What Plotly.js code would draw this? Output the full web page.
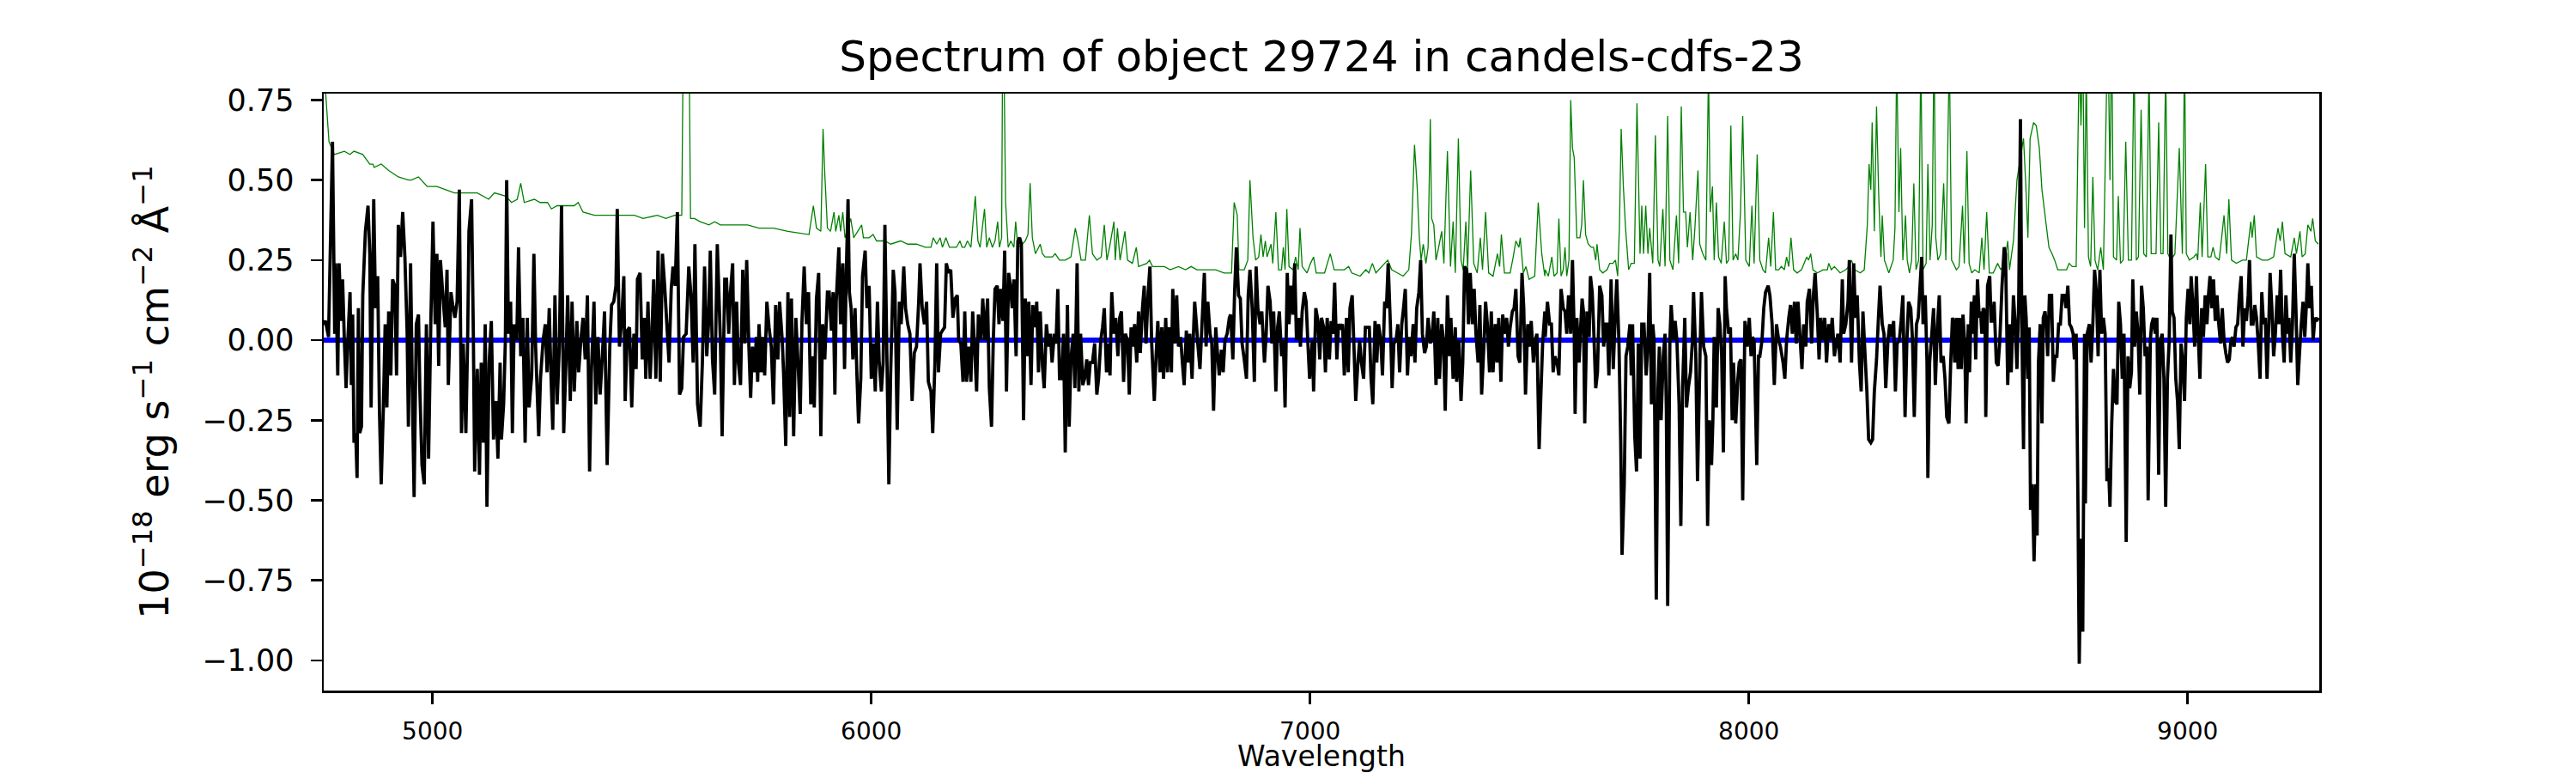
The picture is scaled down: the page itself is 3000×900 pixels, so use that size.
<!DOCTYPE html>
<html>
<head>
<meta charset="utf-8">
<title>Spectrum of object 29724</title>
<script src="https://cdn.plot.ly/plotly-3.0.1.min.js"></script>
<style>
  html, body { margin: 0; padding: 0; background: #fff; }
  #chart { width: 3000px; height: 900px; }
</style>
</head>
<body>
<div id="chart"></div>
<script>
// ---------------------------------------------------------------------------
// Data (wavelength in Angstrom, flux in 1e-18 cgs)
// ---------------------------------------------------------------------------

// Object flux (black), in five wavelength chunks
const fluxWave1 = [
  4750,4756,4763,4772,4777,4779,4784,4787,4792,4795,
  4799,4803,4807,4812,4815,4818,4821,4825,4828,4831,
  4834,4838,4841,4847,4853,4857,4860,4866,4870,4875,
  4879,4883,4888,4892,4896,4900,4905,4909,4914,4918,
  4922,4927,4932,4937,4942,4945,4950,4955,4958,4963,
  4968,4971,4976,4981,4986,4991,4996,5001,5006,5010,
  5014,5018,5023,5029,5033,5036,5042,5046,5051,5056,
  5061,5066,5070,5076,5080,5083,5089,5093,5096,5102,
  5107,5111,5116,5120,5124,5129,5134,5139,5145,5149,
  5154,5157,5162,5166,5169,5173,5178,5182,5186,5192,
  5196,5201,5206,5211,5216,5220,5226,5231,5235,5242,
  5246,5252,5257,5261,5266,5270,5274,5279,5284,5289,
  5294,5299,5304,5308,5314,5318,5323,5329,5333,5338,
  5343,5348,5353,5358,5362,5368,5372,5377,5382,5387,
  5392,5398,5404,5408,5413,5418,5421,5426,5431,5436,
  5439,5444,5449,5454,5459,5464,5467,5473,5478,5483,
  5486,5491,5496,5499,5504,5509,5514,5519,5524,5529,
  5534,5539,5544,5548,5553,5558,5563,5568,5572,5578,
  5584,5589,5594,5598,5604,5610,5615,5620,5625,5629,
  5633,5638,5643,5649,5656,5660,5666,5670,5675
];
const fluxValues1 = [
  0.05,0.06,0.01,0.62,0.02,0.24,-0.11,0.24,0.06,0.19,
  0.00,-0.15,0.00,0.15,-0.14,0.08,-0.32,-0.29,-0.43,0.10,
  -0.29,-0.27,0.14,0.34,0.42,0.27,-0.21,0.44,0.10,0.20,
  -0.22,-0.45,-0.21,0.05,-0.21,0.09,-0.11,0.19,0.17,-0.11,
  0.36,0.26,0.40,0.26,0.03,-0.27,0.24,-0.25,-0.49,0.05,
  0.08,-0.15,-0.39,-0.45,0.05,-0.37,0.05,0.37,0.05,0.27,
  -0.08,0.25,0.15,0.04,0.22,-0.14,0.15,0.11,0.07,0.12,
  0.47,-0.29,-0.01,-0.29,0.00,0.34,0.44,0.02,-0.41,-0.09,
  -0.42,-0.07,-0.32,0.05,-0.52,-0.07,0.06,-0.31,-0.19,-0.37,
  -0.07,-0.31,-0.20,0.00,0.50,0.02,0.12,-0.29,0.05,0.00,
  0.29,-0.05,0.07,-0.32,0.07,-0.21,-0.11,0.27,-0.02,-0.30,
  -0.12,0.00,0.05,-0.10,0.10,-0.11,-0.28,0.14,-0.20,-0.02,
  0.42,-0.29,-0.07,0.14,-0.19,0.12,-0.16,0.06,-0.10,0.00,
  0.07,-0.06,0.14,-0.41,-0.10,0.12,-0.20,0.01,-0.17,-0.05,
  0.09,-0.39,-0.02,0.11,0.12,0.17,0.41,-0.02,0.06,0.20,
  -0.19,0.03,0.04,-0.21,0.02,-0.09,0.19,0.21,-0.06,0.07,
  -0.12,0.12,-0.12,-0.02,0.19,-0.12,0.28,-0.13,0.27,0.17,
  0.05,-0.07,0.16,0.23,0.17,0.40,-0.17,-0.15,0.01,0.02,
  0.23,0.14,-0.07,0.30,-0.20,-0.27,-0.07,0.23,-0.05,0.05,
  0.28,-0.06,-0.17,0.30,0.00,-0.30,0.19,0.19,0.02
];

const fluxWave2 = [
  5679,5684,5688,5693,5697,5702,5707,5712,5716,5721,
  5725,5729,5734,5738,5741,5744,5749,5753,5757,5762,
  5767,5772,5777,5782,5787,5791,5797,5800,5805,5810,
  5814,5818,5823,5828,5833,5838,5842,5847,5852,5857,
  5862,5866,5870,5875,5880,5885,5889,5894,5900,5904,
  5909,5913,5917,5920,5926,5930,5935,5939,5943,5947,
  5950,5954,5958,5963,5967,5971,5976,5980,5986,5990,
  5995,6000,6005,6009,6014,6018,6023,6027,6031,6035,
  6040,6044,6050,6054,6059,6064,6068,6074,6078,6083,
  6088,6093,6098,6103,6108,6111,6116,6121,6126,6130,
  6136,6140,6145,6149,6153,6158,6162,6167,6171,6176,
  6181,6186,6191,6196,6199,6204,6209,6213,6217,6222,
  6227,6231,6235,6240,6244,6250,6254,6259,6265,6269,
  6274,6278,6282,6287,6291,6295,6300,6304,6308,6313,
  6317,6321,6325,6330,6334,6338,6342,6347,6351,6355,
  6359,6364,6368,6373,6377,6381,6385,6390,6394,6399,
  6404,6408,6412,6417,6421,6425,6429,6434,6438,6442,
  6447,6451,6455,6460,6464,6469,6473,6477,6482,6486,
  6491,6495,6499,6504,6509,6514,6518,6523,6527,6531,
  6536,6540,6544,6548,6553,6557,6562,6566,6570,6575,
  6579,6584,6588,6592,6597,6600,6605
];
const fluxValues2 = [
  0.15,0.24,-0.14,0.12,-0.07,-0.14,0.22,-0.01,0.25,-0.02,
  -0.18,-0.02,-0.10,0.01,-0.13,0.05,-0.10,0.01,-0.11,0.12,
  0.04,-0.02,-0.20,0.11,-0.06,0.12,0.00,-0.10,-0.33,0.15,
  -0.24,0.13,-0.30,0.07,-0.07,-0.23,0.06,0.23,0.05,0.15,
  -0.20,-0.05,-0.21,0.13,0.21,-0.30,0.05,-0.06,0.15,0.15,
  0.03,0.15,-0.17,0.12,0.29,0.05,0.24,-0.09,0.21,0.44,
  0.15,0.10,-0.06,0.10,-0.10,-0.26,-0.12,0.20,0.28,0.10,
  0.17,-0.12,-0.01,-0.16,0.12,-0.07,-0.16,-0.07,0.36,0.00,
  -0.45,-0.11,0.22,0.15,-0.28,0.12,0.05,0.23,0.10,0.05,
  0.02,-0.19,-0.04,-0.02,0.12,0.24,0.10,0.05,0.12,-0.13,
  -0.16,-0.29,-0.07,0.24,-0.10,0.02,0.03,0.04,0.24,0.21,
  0.22,0.07,0.13,0.14,0.00,-0.01,-0.13,0.09,-0.13,-0.02,
  -0.13,0.09,-0.01,-0.16,0.08,0.00,0.13,0.00,0.13,-0.15,
  -0.27,0.00,0.16,0.17,0.05,0.16,0.06,0.28,-0.16,0.21,
  0.17,0.10,0.19,-0.05,0.31,0.32,0.30,-0.25,0.13,-0.05,
  0.12,-0.14,0.11,0.04,0.12,-0.10,0.09,-0.08,-0.15,0.05,
  -0.02,0.02,-0.07,0.02,-0.01,0.16,-0.12,-0.12,0.02,-0.35,
  0.11,-0.27,-0.06,0.02,-0.15,0.24,-0.16,0.02,-0.14,-0.12,
  -0.06,-0.14,-0.07,-0.07,-0.01,-0.17,-0.12,0.00,0.04,0.10,
  -0.10,-0.01,-0.11,0.15,0.02,0.07,-0.05,0.07,0.09,-0.13,
  0.02,0.00,-0.17,0.04,-0.02,0.05,-0.07
];

const fluxWave3 = [
  6609,6613,6618,6622,6626,6631,6635,6639,6645,6649,
  6653,6658,6662,6666,6671,6675,6679,6684,6687,6692,
  6696,6700,6705,6709,6713,6718,6722,6726,6731,6735,
  6737,6741,6744,6749,6754,6759,6763,6767,6772,6776,
  6780,6785,6789,6793,6798,6802,6806,6811,6816,6819,
  6824,6828,6832,6837,6841,6845,6850,6855,6859,6863,
  6868,6873,6877,6881,6886,6890,6896,6900,6904,6909,
  6913,6917,6922,6926,6930,6935,6939,6943,6948,6952,
  6956,6961,6965,6969,6974,6978,6982,6987,6991,6995,
  6999,7005,7008,7013,7018,7022,7026,7031,7035,7039,
  7044,7048,7052,7056,7061,7065,7070,7074,7078,7083,
  7087,7091,7096,7100,7104,7109,7113,7117,7122,7126,
  7130,7135,7139,7143,7148,7152,7156,7161,7165,7170,
  7174,7178,7183,7187,7191,7196,7200,7204,7209,7213,
  7217,7222,7226,7230,7235,7239,7243,7248,7252,7256,
  7261,7265,7269,7274,7278,7282,7287,7291,7295,7300,
  7304,7308,7313,7318,7321,7326,7331,7334,7339,7344,
  7348,7352,7357,7361,7365,7370,7374,7378,7383,7387,
  7391,7396,7400,7404,7409,7413,7417,7422,7426,7430,
  7435,7439,7443,7448,7452,7456,7461,7465,7469,7474,
  7478,7483,7487,7491,7496,7500,7504,7509,7513,7517,
  7522,7526,7530,7535
];
const fluxValues3 = [
  0.09,-0.04,0.10,0.17,-0.01,0.15,0.23,-0.01,-0.19,-0.05,
  0.06,-0.10,0.04,-0.12,0.07,-0.10,0.04,-0.10,0.16,-0.01,
  0.14,-0.02,0.01,-0.07,-0.14,0.03,-0.07,0.02,-0.12,0.05,
  0.12,0.05,-0.01,-0.09,0.06,0.21,-0.02,0.12,0.02,-0.01,
  -0.22,0.04,-0.04,-0.11,-0.03,-0.10,0.00,0.02,0.07,0.08,
  -0.06,0.15,0.29,0.14,0.13,-0.01,-0.06,-0.12,0.14,0.22,
  0.10,-0.13,0.23,0.10,0.05,0.09,-0.07,0.02,0.17,0.12,
  -0.01,0.09,-0.16,0.04,0.09,-0.05,0.00,-0.21,0.21,0.05,
  0.17,0.08,0.24,0.00,0.07,-0.02,0.09,0.15,0.12,-0.01,
  -0.12,0.00,-0.16,0.10,0.06,-0.06,0.07,0.04,-0.10,0.07,
  -0.06,0.06,0.02,0.18,-0.06,0.05,0.04,0.05,-0.11,0.07,
  -0.10,0.10,0.14,-0.02,-0.19,-0.07,0.00,-0.07,-0.12,0.04,
  0.04,0.04,-0.12,-0.20,0.06,-0.07,0.05,0.00,-0.11,0.12,
  0.10,0.24,0.05,-0.15,-0.01,0.00,0.05,-0.10,0.05,0.10,
  0.16,-0.11,0.01,-0.05,0.05,-0.07,0.10,0.15,0.25,0.02,
  -0.04,-0.02,0.07,-0.01,0.01,0.09,-0.14,0.07,-0.12,0.05,
  0.00,-0.22,0.14,-0.05,0.07,-0.12,0.04,-0.13,0.00,-0.19,
  -0.07,0.23,0.22,0.05,0.21,0.05,0.16,0.02,-0.07,0.11,
  -0.17,-0.02,0.12,0.05,-0.10,0.09,-0.10,0.05,-0.07,0.07,
  -0.13,0.08,0.02,0.07,-0.02,0.04,0.09,0.10,0.16,-0.05,
  -0.07,0.21,0.10,-0.17,0.05,-0.02,0.06,-0.07,0.00,0.02,
  -0.34,-0.17,-0.01,0.09
];

const fluxWave4 = [
  7536,7541,7546,7550,7554,7558,7563,7567,7572,7577,
  7581,7585,7589,7594,7598,7602,7604,7608,7613,7617,
  7620,7623,7626,7631,7636,7639,7643,7646,7651,7655,
  7660,7665,7669,7673,7677,7681,7686,7691,7696,7699,
  7704,7708,7711,7716,7720,7724,7729,7732,7735,7740,
  7744,7748,7752,7756,7761,7766,7770,7774,7778,7781,
  7784,7789,7793,7796,7800,7805,7809,7812,7815,7820,
  7823,7828,7832,7836,7841,7845,7849,7854,7858,7862,
  7867,7871,7874,7879,7883,7889,7892,7897,7902,7906,
  7910,7915,7918,7921,7926,7930,7934,7938,7942,7946,
  7949,7954,7958,7962,7965,7970,7975,7978,7982,7986,
  7991,7996,8001,8005,8008,8012,8018,8022,8025,8030,
  8034,8038,8044,8048,8053,8058,8063,8068,8072,8078,
  8082,8086,8091,8095,8099,8104,8108,8112,8117,8121,
  8125,8130,8133,8138,8143,8147,8151,8156,8160,8164,
  8169,8173,8177,8182,8186,8190,8195,8199,8203,8208,
  8213,8216,8221,8226,8229,8234,8239,8243,8247,8252,
  8256,8260,8265,8269,8273,8278,8282,8286,8291,8295,
  8299,8304,8308,8312,8317,8321,8325,8330,8334,8338,
  8343,8347,8351,8356,8360,8364,8369,8373,8377,8382,
  8386,8391,8394,8397,8402,8406,8408,8412,8417,8421,
  8425,8430,8434,8438,8443,8447,8451,8456,8460,8464
];
const fluxValues4 = [
  0.01,0.12,0.05,0.05,-0.10,-0.05,-0.07,-0.11,0.16,0.10,
  0.09,0.02,0.14,0.02,0.25,0.02,-0.23,0.07,-0.07,0.05,
  0.13,0.09,-0.26,0.09,0.01,0.20,0.15,0.05,-0.15,-0.10,
  0.17,0.14,-0.02,0.05,0.05,-0.11,0.19,-0.09,0.10,0.19,
  -0.01,-0.32,-0.67,-0.45,-0.05,-0.02,0.05,-0.11,0.05,-0.30,
  -0.41,-0.01,-0.37,0.05,0.05,-0.11,-0.01,0.21,-0.20,0.05,
  0.00,-0.81,-0.15,-0.02,-0.25,-0.05,0.02,-0.22,-0.83,0.00,
  0.11,0.00,0.06,0.00,-0.20,-0.58,-0.15,0.07,-0.21,-0.15,
  -0.10,-0.01,0.15,-0.04,-0.44,-0.02,0.15,-0.02,-0.05,-0.58,
  -0.25,-0.39,-0.25,0.01,-0.21,0.10,0.05,-0.05,-0.35,0.20,
  0.10,0.02,0.04,-0.25,-0.07,-0.26,-0.12,-0.07,-0.06,-0.50,
  0.06,-0.02,0.07,-0.05,0.01,0.00,-0.39,-0.05,-0.05,0.00,
  0.10,0.15,0.17,0.14,0.05,-0.14,0.05,0.00,-0.02,-0.07,
  -0.12,0.00,0.07,0.11,0.02,0.12,-0.01,0.12,0.00,-0.09,
  0.05,-0.02,0.12,0.16,-0.01,0.14,0.21,0.08,-0.06,0.07,
  0.00,0.07,-0.07,0.05,0.00,0.07,-0.05,-0.01,0.02,-0.07,
  0.19,0.02,0.05,0.12,0.25,-0.07,0.24,0.07,0.14,-0.07,
  -0.16,0.09,-0.05,-0.16,-0.31,-0.32,-0.31,-0.16,-0.06,0.06,
  0.17,0.05,0.02,-0.15,0.00,0.05,0.01,0.06,-0.16,-0.01,
  0.00,0.06,0.14,-0.24,-0.01,0.12,0.10,0.00,-0.24,0.05,
  0.07,0.19,0.26,0.05,0.14,-0.07,-0.43,-0.07,0.02,0.10,
  -0.14,0.05,0.14,-0.07,-0.05,-0.12,-0.24,-0.26,-0.07,0.07
];

const fluxWave5 = [
  8466,8469,8473,8477,8480,8484,8488,8492,8495,8500,
  8503,8507,8510,8514,8517,8521,8525,8528,8531,8534,
  8538,8540,8544,8549,8552,8556,8559,8564,8568,8572,
  8577,8582,8585,8590,8594,8598,8603,8607,8611,8615,
  8619,8622,8626,8629,8632,8636,8639,8642,8646,8650,
  8654,8657,8660,8664,8668,8671,8675,8678,8681,8685,
  8690,8694,8698,8702,8706,8710,8714,8719,8723,8727,
  8731,8735,8739,8742,8746,8750,8753,8757,8761,8765,
  8767,8771,8776,8780,8784,8788,8792,8796,8800,8804,
  8808,8812,8816,8820,8823,8827,8831,8835,8839,8843,
  8847,8851,8855,8860,8864,8868,8872,8875,8879,8883,
  8887,8891,8895,8899,8903,8907,8910,8915,8918,8922,
  8926,8930,8934,8938,8942,8946,8950,8954,8958,8962,
  8965,8969,8973,8977,8981,8985,8989,8993,8997,9001,
  9005,9008,9012,9016,9020,9024,9028,9032,9036,9040,
  9044,9048,9051,9055,9059,9063,9067,9071,9075,9079,
  9083,9087,9091,9095,9098,9102,9106,9110,9114,9118,
  9122,9126,9130,9134,9138,9141,9145,9149,9153,9157,
  9161,9165,9169,9173,9177,9181,9185,9188,9192,9196,
  9200,9204,9208,9212,9216,9220,9224,9228,9231,9235,
  9239,9243,9247,9251,9255,9259,9263,9267,9271,9274,
  9278,9282,9286,9290,9294,9298
];
const fluxValues5 = [
  0.06,-0.07,0.07,-0.09,0.07,-0.09,0.08,-0.01,-0.26,0.05,
  -0.10,0.12,0.02,0.14,-0.06,0.19,0.07,0.09,0.02,0.10,
  0.09,-0.24,0.17,0.20,0.06,0.06,0.12,-0.07,-0.08,0.00,
  0.17,0.29,0.27,-0.14,0.05,-0.10,0.14,0.05,-0.09,0.12,
  0.69,0.05,-0.34,0.14,0.07,-0.12,0.04,-0.53,-0.45,-0.69,
  -0.45,-0.61,-0.07,0.05,-0.26,0.07,0.09,0.05,-0.05,0.14,
  0.14,-0.13,-0.05,-0.05,0.05,0.05,0.14,0.14,0.10,0.17,
  0.05,0.04,0.02,-0.06,0.02,-0.50,-1.01,-0.62,-0.91,0.02,
  -0.51,0.02,0.05,-0.07,0.05,0.22,0.15,-0.05,0.22,0.02,
  0.07,0.02,-0.44,-0.40,-0.52,-0.26,-0.09,-0.19,-0.20,0.12,
  0.05,-0.12,0.02,-0.63,-0.05,-0.15,-0.10,0.19,-0.02,0.09,
  0.02,-0.17,0.17,0.10,-0.05,-0.02,-0.50,0.00,0.05,0.07,
  0.02,0.07,-0.42,0.00,0.02,-0.12,-0.52,-0.12,0.00,0.33,
  0.09,0.07,-0.12,-0.19,-0.34,-0.01,-0.07,-0.19,0.07,0.16,
  0.05,0.20,0.11,-0.02,0.20,0.02,-0.12,0.10,0.01,0.14,
  0.05,0.15,0.20,0.10,0.19,0.06,0.14,0.05,-0.01,0.10,
  0.00,-0.04,-0.07,-0.06,-0.01,0.01,-0.02,0.04,0.05,0.14,
  0.20,-0.02,0.10,0.06,0.14,0.25,0.05,0.05,0.11,0.07,
  -0.01,-0.12,0.15,0.05,0.07,-0.12,0.05,0.21,0.10,-0.05,
  0.02,0.14,0.05,0.22,0.02,-0.07,0.14,0.02,0.07,-0.07,
  0.05,0.27,0.09,-0.14,-0.04,0.05,0.12,0.01,0.12,0.24,
  0.10,0.17,0.00,0.07,0.06,0.07
];

// Noise / sky spectrum (green)
const noiseWave1 = [
  4750,4755,4764,4776,4799,4812,4821,4841,4857,4864,
  4867,4883,4900,4922,4945,4952,4968,4988,5010,5030,
  5050,5076,5102,5128,5141,5167,5180,5193,5201,5209,
  5232,5245,5262,5271,5284,5304,5323,5332,5343,5369,
  5402,5421,5441,5460,5480,5512,5532,5552,5568,5573,
  5578,5583,5588,5597,5610,5630,5643,5656,5675
];
const noiseValues1 = [
  0.95,0.80,0.62,0.58,0.59,0.58,0.59,0.58,0.55,0.55,
  0.54,0.55,0.53,0.51,0.50,0.50,0.51,0.48,0.48,0.47,
  0.46,0.46,0.46,0.44,0.46,0.45,0.43,0.44,0.49,0.43,
  0.44,0.43,0.43,0.41,0.42,0.42,0.42,0.43,0.40,0.39,
  0.39,0.39,0.39,0.39,0.38,0.39,0.38,0.39,0.39,1.20,
  1.50,1.20,0.38,0.38,0.37,0.36,0.37,0.36,0.36
];

const noiseWave2 = [
  5679,5718,5744,5777,5810,5858,5868,5875,5885,5890,
  5894,5900,5907,5915,5919,5926,5930,5935,5940,5947,
  5953,5960,5969,5978,5982,5995,6004,6012,6031,6044,
  6067,6083,6103,6123,6136,6141,6149,6157,6162,6170,
  6178,6194,6202,6207,6213,6219,6227,6237,6243,6248,
  6258,6263,6269,6276,6282,6288,6292,6297,6300,6303,
  6306,6312,6318,6325,6329,6334,6344,6351,6357,6362,
  6367,6374,6385,6390,6396,6413,6419,6429,6442,6455,
  6465,6471,6478,6488,6497,6504,6514,6524,6531,6537,
  6543,6553,6556,6561,6567,6578,6584,6595,6604
];
const noiseValues2 = [
  0.36,0.36,0.35,0.35,0.34,0.33,0.42,0.35,0.34,0.66,
  0.52,0.35,0.34,0.40,0.34,0.39,0.34,0.40,0.32,0.35,
  0.38,0.32,0.34,0.36,0.32,0.32,0.33,0.31,0.31,0.30,
  0.31,0.30,0.30,0.29,0.29,0.32,0.30,0.32,0.29,0.32,
  0.29,0.29,0.31,0.29,0.29,0.31,0.29,0.45,0.31,0.29,
  0.41,0.29,0.32,0.29,0.31,0.37,0.29,0.32,1.10,0.80,
  0.43,0.29,0.31,0.29,0.37,0.29,0.30,0.31,0.33,0.49,
  0.32,0.27,0.30,0.27,0.26,0.26,0.27,0.25,0.25,0.26,
  0.35,0.31,0.25,0.25,0.39,0.27,0.25,0.26,0.36,0.25,
  0.29,0.37,0.25,0.35,0.25,0.34,0.25,0.24,0.29
];

const noiseWave3 = [
  6609,6628,6634,6641,6668,6681,6700,6716,6729,6742,
  6759,6785,6804,6821,6827,6834,6838,6850,6858,6863,
  6870,6876,6883,6888,6893,6898,6902,6911,6915,6922,
  6928,6935,6939,6943,6947,6952,6961,6967,6973,6977,
  6982,6993,7001,7008,7014,7033,7046,7055,7065,7078,
  7088,7095,7114,7127,7134,7142,7150,7170,7177,7186,
  7199,7212,7225,7231,7238,7244,7249,7253,7258,7264,
  7269,7274,7277,7282,7287,7293,7300,7305,7313,7320,
  7326,7331,7338,7344,7349,7355,7359,7366,7373,7381,
  7388,7393,7400,7407,7417,7427,7432,7436,7443,7456,
  7463,7469,7476,7479,7486,7492,7499,7512,7520,7528,
  7535
];
const noiseValues3 = [
  0.23,0.24,0.25,0.23,0.23,0.22,0.23,0.22,0.23,0.22,
  0.22,0.22,0.21,0.21,0.43,0.39,0.22,0.22,0.25,0.50,
  0.32,0.25,0.26,0.33,0.26,0.31,0.26,0.30,0.24,0.40,
  0.22,0.22,0.29,0.22,0.41,0.23,0.22,0.26,0.22,0.35,
  0.23,0.21,0.24,0.26,0.21,0.21,0.27,0.22,0.22,0.22,
  0.23,0.21,0.20,0.22,0.21,0.24,0.21,0.24,0.25,0.22,
  0.21,0.20,0.22,0.33,0.61,0.48,0.32,0.25,0.30,0.24,
  0.29,0.69,0.38,0.36,0.25,0.29,0.34,0.24,0.59,0.23,
  0.37,0.21,0.63,0.25,0.22,0.37,0.22,0.53,0.24,0.21,
  0.32,0.22,0.40,0.21,0.20,0.27,0.23,0.33,0.21,0.21,
  0.26,0.31,0.29,0.32,0.21,0.23,0.19,0.20,0.43,0.27,
  0.20
];

const noiseWave4 = [
  7536,7543,7551,7556,7563,7567,7572,7577,7581,7585,
  7590,7594,7598,7602,7608,7615,7619,7623,7628,7634,
  7641,7646,7651,7654,7660,7667,7677,7683,7690,7696,
  7701,7705,7709,7714,7719,7726,7732,7739,7745,7752,
  7756,7760,7765,7770,7774,7781,7787,7793,7797,7804,
  7809,7815,7820,7827,7835,7840,7846,7851,7856,7860,
  7866,7872,7877,7884,7888,7895,7902,7908,7912,7917,
  7921,7926,7931,7937,7944,7949,7954,7959,7964,7970,
  7975,7981,7986,7993,8001,8007,8012,8019,8025,8032,
  8038,8045,8050,8056,8061,8068,8074,8081,8086,8091,
  8096,8102,8110,8120,8126,8132,8136,8141,8146,8156,
  8169,8179,8182,8188,8195,8208,8221,8228,8234,8241,
  8254,8263,8270,8274,8278,8281,8286,8291,8296,8301,
  8304,8309,8319,8329,8333,8337,8342,8346,8351,8357,
  8361,8366,8371,8376,8381,8387,8392,8397,8404,8408,
  8413,8418,8422,8426,8431,8437,8444,8449,8457,8462
];
const noiseValues4 = [
  0.22,0.20,0.26,0.20,0.21,0.38,0.20,0.22,0.29,0.20,
  0.25,0.75,0.60,0.57,0.32,0.32,0.36,0.50,0.33,0.30,
  0.29,0.29,0.25,0.30,0.22,0.21,0.22,0.24,0.24,0.25,
  0.20,0.35,0.66,0.48,0.35,0.22,0.24,0.24,0.74,0.27,
  0.42,0.27,0.42,0.27,0.35,0.24,0.64,0.25,0.23,0.41,
  0.23,0.70,0.25,0.22,0.39,0.24,0.73,0.40,0.40,0.29,
  0.40,0.25,0.35,0.53,0.30,0.27,0.25,0.85,0.40,0.48,
  0.25,0.43,0.26,0.24,0.37,0.24,0.25,0.67,0.25,0.27,
  0.25,0.40,0.70,0.25,0.23,0.42,0.24,0.58,0.25,0.22,
  0.21,0.32,0.23,0.40,0.22,0.22,0.23,0.22,0.26,0.23,
  0.32,0.22,0.21,0.22,0.24,0.26,0.25,0.27,0.22,0.21,
  0.22,0.22,0.24,0.22,0.23,0.21,0.22,0.23,0.25,0.22,
  0.21,0.22,0.36,0.55,0.47,0.68,0.34,0.73,0.45,0.26,
  0.39,0.25,0.21,0.25,0.35,0.90,0.40,0.60,0.25,0.39,
  0.25,0.21,0.25,0.49,0.22,0.25,0.90,0.22,0.24,0.55,
  0.25,0.36,0.95,0.32,0.25,0.27,0.49,0.25,0.90,0.25
];

const noiseWave5 = [
  8466,8473,8479,8487,8491,8497,8502,8508,8515,8525,
  8531,8536,8542,8548,8557,8567,8574,8583,8590,8594,
  8603,8611,8619,8626,8631,8636,8641,8649,8655,8662,
  8668,8675,8684,8691,8697,8704,8714,8724,8730,8737,
  8746,8753,8757,8761,8765,8769,8774,8779,8784,8789,
  8795,8802,8808,8818,8823,8827,8831,8838,8842,8847,
  8853,8859,8865,8872,8878,8883,8888,8894,8900,8906,
  8912,8917,8922,8928,8934,8939,8944,8950,8955,8962,
  8971,8981,8988,8993,8997,9004,9014,9020,9023,9029,
  9033,9041,9046,9053,9058,9063,9072,9083,9089,9094,
  9100,9111,9125,9134,9144,9147,9152,9157,9170,9183,
  9196,9206,9211,9216,9222,9235,9243,9248,9256,9261,
  9268,9274,9281,9285,9291,9298
];
const noiseValues5 = [
  0.24,0.22,0.23,0.42,0.24,0.59,0.24,0.21,0.22,0.21,
  0.32,0.22,0.40,0.21,0.21,0.24,0.22,0.24,0.31,0.22,
  0.31,0.50,0.57,0.63,0.49,0.32,0.63,0.68,0.67,0.60,
  0.47,0.39,0.29,0.27,0.25,0.22,0.22,0.22,0.24,0.23,
  0.23,0.90,0.67,0.95,0.35,0.85,0.26,0.23,0.51,0.25,
  0.22,0.29,0.22,1.00,0.50,1.00,0.26,0.25,0.45,0.24,
  0.25,0.62,0.25,0.25,0.90,0.25,0.26,0.72,0.27,0.26,
  0.85,0.27,0.27,0.27,0.68,0.27,0.27,0.85,0.27,0.25,
  0.27,0.60,0.27,0.90,0.27,0.25,0.26,0.27,0.25,0.43,
  0.26,0.55,0.26,0.26,0.29,0.26,0.25,0.39,0.27,0.44,
  0.25,0.24,0.25,0.25,0.37,0.32,0.39,0.26,0.25,0.25,
  0.26,0.35,0.31,0.37,0.27,0.26,0.32,0.27,0.34,0.26,
  0.27,0.36,0.34,0.38,0.31,0.30
];

// Model continuum (blue), flat at zero over the whole range
const modelWave = [4750, 9300];
const modelValues = [0, 0];

// Axis ticks and labels
const xTicks = [5000, 6000, 7000, 8000, 9000];
const yTicks = [-1.00, -0.75, -0.50, -0.25, 0.00, 0.25, 0.50, 0.75];
const titleText = 'Spectrum of object 29724 in candels-cdfs-23';
const xLabel = 'Wavelength';
const yLabel = '10<sup>\u221218</sup> erg s<sup>\u22121</sup> cm<sup>\u22122</sup> \u00c5<sup>\u22121</sup>';

// ---------------------------------------------------------------------------
// Build traces (green noise, blue model, black flux on top)
// ---------------------------------------------------------------------------
const fluxWave = [].concat(fluxWave1, fluxWave2, fluxWave3, fluxWave4, fluxWave5);
const fluxValues = [].concat(fluxValues1, fluxValues2, fluxValues3, fluxValues4, fluxValues5);
const noiseWave = [].concat(noiseWave1, noiseWave2, noiseWave3, noiseWave4, noiseWave5);
const noiseValues = [].concat(noiseValues1, noiseValues2, noiseValues3, noiseValues4, noiseValues5);

const traces = [
    {
        type: 'scatter',
        mode: 'lines',
        x: noiseWave,
        y: noiseValues,
        name: 'Noise',
        line: { color: '#008000', width: 1.3, simplify: false },
        hoverinfo: 'skip'
    },
    {
        type: 'scatter',
        mode: 'lines',
        x: modelWave,
        y: modelValues,
        name: 'Model',
        line: { color: '#0000ff', width: 6 }
    },
    {
        type: 'scatter',
        mode: 'lines',
        x: fluxWave,
        y: fluxValues,
        name: 'Flux',
        line: { color: '#000000', width: 3.8, simplify: false }
    }
];

const axisCommon = {
    showgrid: false,
    zeroline: false,
    showline: true,
    linecolor: '#000000',
    linewidth: 2.5,
    mirror: true,
    ticks: 'outside',
    ticklen: 13,
    tickwidth: 2.5,
    tickcolor: '#000000'
};

const layout = {
    width: 3000,
    height: 900,
    paper_bgcolor: '#ffffff',
    plot_bgcolor: '#ffffff',
    margin: { l: 377, r: 299, t: 109, b: 96 },
    font: { family: 'DejaVu Sans, Verdana, sans-serif', color: '#000000' },
    showlegend: false,
    title: {
        text: titleText,
        font: { size: 50, color: '#000000' },
        x: 0.5,
        xref: 'paper',
        xanchor: 'center',
        y: 0.927,
        yref: 'container',
        yanchor: 'middle'
    },
    xaxis: Object.assign({}, axisCommon, {
        range: [4752, 9300],
        tickvals: xTicks,
        ticktext: xTicks.map(String),
        tickfont: { size: 28 },
        ticklabelstandoff: 8,
        title: { text: xLabel, font: { size: 33 }, standoff: 6 }
    }),
    yaxis: Object.assign({}, axisCommon, {
        range: [-1.094, 0.770],
        tickvals: yTicks,
        tickformat: '.2f',
        tickfont: { size: 35 },
        ticklabelstandoff: 12,
        title: { text: yLabel, font: { size: 46 }, standoff: 24 }
    })
};

Plotly.newPlot('chart', traces, layout, { displayModeBar: false, staticPlot: true });
</script>
</body>
</html>
